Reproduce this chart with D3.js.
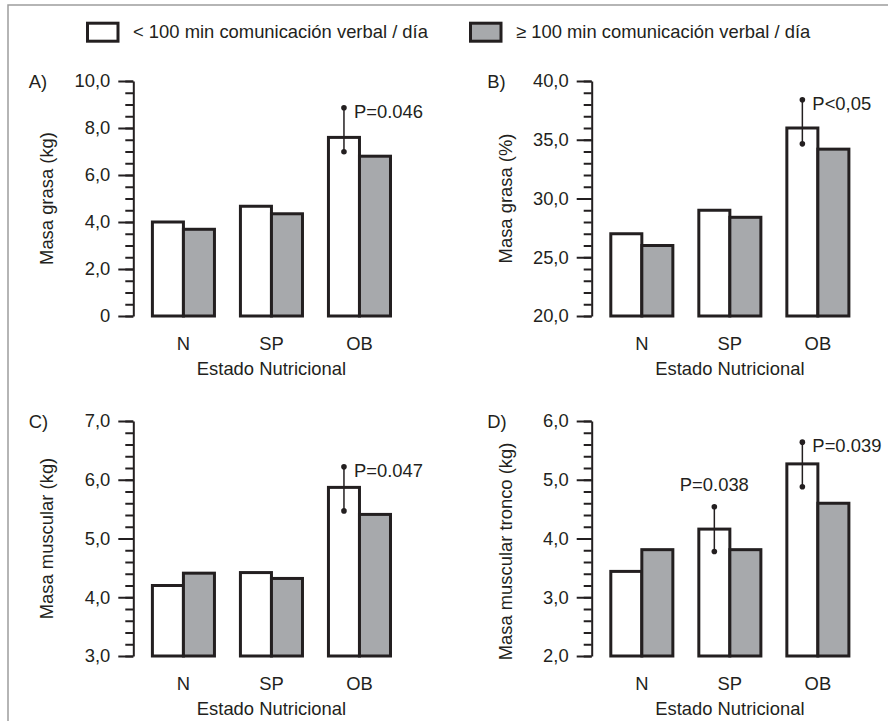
<!DOCTYPE html>
<html>
<head>
<meta charset="utf-8">
<script src="https://cdn.jsdelivr.net/npm/d3@7"></script>
<style>
  body { margin: 0; background: #fff; }
  svg text { font-family: "Liberation Sans", Arial, sans-serif; font-size: 18.4px; fill: #231f20; }
</style>
</head>
<body>
<svg id="chart" width="888" height="721"></svg>
<script>

// ---- data ----
var categories = ["N", "SP", "OB"];
var seriesNames = ["< 100 min comunicación verbal / día", "≥ 100 min comunicación verbal / día"];

// A) Masa grasa (kg)
var fatKgLess = [4.0, 4.67, 7.6];
var fatKgMore = [3.69, 4.35, 6.8];
var fatKgTicks = [0, 2, 4, 6, 8, 10];

// B) Masa grasa (%)
var fatPctLess = [27.0, 29.0, 36.0];
var fatPctMore = [26.0, 28.4, 34.2];
var fatPctTicks = [20, 25, 30, 35, 40];

// C) Masa muscular (kg)
var muscleLess = [4.2, 4.42, 5.87];
var muscleMore = [4.41, 4.32, 5.41];
var muscleTicks = [3, 4, 5, 6, 7];

// D) Masa muscular tronco (kg)
var trunkLess = [3.44, 4.16, 5.27];
var trunkMore = [3.81, 3.81, 4.6];
var trunkTicks = [2, 3, 4, 5, 6];

// error bars on the "< 100 min" bar: [category, low, high, label, label side]
var fatKgErr = [["OB", 6.99, 8.86, "P=0.046", "right"]];
var fatPctErr = [["OB", 34.65, 38.4, "P<0,05", "right"]];
var muscleErr = [["OB", 5.47, 6.22, "P=0.047", "right"]];
var trunkErr = [["SP", 3.78, 4.54, "P=0.038", "above"], ["OB", 4.88, 5.64, "P=0.039", "right"]];

// ---- layout ----
var ink = "#231f20", grey = "#a7a9ac";
var panels = [
    {tag: "A)", label: "Masa grasa (kg)", less: fatKgLess, more: fatKgMore, ticks: fatKgTicks, minor: 0.5, err: fatKgErr, ax: 133.3, top: 81, bottom: 316, labelShift: 0},
    {tag: "B)", label: "Masa grasa (%)", less: fatPctLess, more: fatPctMore, ticks: fatPctTicks, minor: 1, err: fatPctErr, ax: 591.7, top: 81, bottom: 316, labelShift: 0},
    {tag: "C)", label: "Masa muscular (kg)", less: muscleLess, more: muscleMore, ticks: muscleTicks, minor: 0.2, err: muscleErr, ax: 133.3, top: 421, bottom: 656, labelShift: 0},
    {tag: "D)", label: "Masa muscular tronco (kg)", less: trunkLess, more: trunkMore, ticks: trunkTicks, minor: 0.2, err: trunkErr, ax: 591.7, top: 421, bottom: 656, labelShift: 13}
];

var svg = d3.select("#chart");

// frame (top + left edges only are visible)
svg.append("path")
    .attr("d", "M8,721V5H888")
    .attr("fill", "none")
    .attr("stroke", "#9d9d9d")
    .attr("stroke-width", 1.5);

// legend
var legendX = [86, 469];
seriesNames.forEach(function(name, i){
    svg.append("rect")
        .attr("x", legendX[i] + 1.5).attr("y", 23.2)
        .attr("width", 30.5).attr("height", 18)
        .attr("fill", i === 0 ? "#fff" : grey)
        .attr("stroke", ink).attr("stroke-width", 3);
    svg.append("text")
        .attr("x", legendX[i] + 47).attr("y", 37.5)
        .text(name);
});

function fmt(d){
    return d === 0 ? "0" : d.toFixed(1).replace(".", ",");
}

panels.forEach(function(p){
    var g = svg.append("g");
    var ext = d3.extent(p.ticks);

    var y = d3.scaleLinear().domain(ext).range([p.bottom, p.top]);
    var x0 = d3.scaleBand().domain(categories)
        .range([p.ax, p.ax + 276.3])
        .paddingInner(0.261).paddingOuter(0.2);
    var bw = x0.bandwidth();
    var x1 = d3.scaleBand().domain([0, 1]).range([1.5, bw - 1.5]);

    // minor ticks first, then the major axis on top
    var minorTicks = d3.range(ext[0], ext[1] + p.minor / 2, p.minor);
    g.append("g")
        .attr("transform", "translate(" + p.ax + ",0)")
        .call(d3.axisLeft(y).tickValues(minorTicks).tickSize(8).tickSizeOuter(0).tickFormat(""))
        .call(function(a){ a.select(".domain").remove(); });

    var axis = g.append("g")
        .attr("transform", "translate(" + p.ax + ",0)")
        .call(d3.axisLeft(y).tickValues(p.ticks).tickSize(15).tickSizeOuter(0).tickPadding(8).tickFormat(fmt));
    axis.selectAll("path, line").attr("stroke", ink).attr("stroke-width", 2);
    g.selectAll(".tick line").attr("stroke", ink).attr("stroke-width", 2);
    axis.selectAll("text").attr("font-size", null).attr("font-family", null).attr("fill", ink);

    // bars
    var rows = categories.map(function(c, i){ return {cat: c, vals: [p.less[i], p.more[i]]}; });
    var grp = g.selectAll(".grp").data(rows).enter().append("g")
        .attr("transform", function(d){ return "translate(" + x0(d.cat) + ",0)"; });
    grp.selectAll("rect").data(function(d){ return d.vals; }).enter().append("rect")
        .attr("x", function(d, i){ return x1(i); })
        .attr("width", x1.bandwidth())
        .attr("y", function(d){ return y(d); })
        .attr("height", function(d){ return p.bottom - y(d); })
        .attr("fill", function(d, i){ return i === 0 ? "#fff" : grey; })
        .attr("stroke", ink)
        .attr("stroke-width", 3);

    // error bars + p values
    p.err.forEach(function(e){
        var cx = x0(e[0]) + x1(0) + x1.bandwidth() / 2;
        g.append("line")
            .attr("x1", cx).attr("x2", cx)
            .attr("y1", y(e[1])).attr("y2", y(e[2]))
            .attr("stroke", ink).attr("stroke-width", 1.5);
        g.selectAll(null).data([e[1], e[2]]).enter().append("circle")
            .attr("cx", cx).attr("cy", function(d){ return y(d); })
            .attr("r", 2.8).attr("fill", ink);
        var t = g.append("text").text(e[3]);
        if(e[4] === "right"){
            t.attr("x", cx + 10).attr("y", y(e[2]) + 10);
        }else{
            t.attr("x", cx).attr("y", y(e[2]) - 16).attr("text-anchor", "middle");
        }
    });

    // category labels + x title
    g.selectAll(".cat").data(categories).enter().append("text")
        .attr("x", function(d){ return x0(d) + bw / 2; })
        .attr("y", p.bottom + 34)
        .attr("text-anchor", "middle")
        .text(function(d){ return d; });
    g.append("text")
        .attr("x", x0("N") + (x0("OB") + bw - x0("N")) / 2)
        .attr("y", p.bottom + 59)
        .attr("text-anchor", "middle")
        .text("Estado Nutricional");

    // y title
    g.append("text")
        .attr("transform", "translate(" + (p.ax - 80) + "," + ((p.top + p.bottom) / 2 + p.labelShift) + ") rotate(-90)")
        .attr("text-anchor", "middle")
        .text(p.label);

    // panel letter
    g.append("text")
        .attr("x", p.ax - 104.5)
        .attr("y", p.top + 7)
        .text(p.tag);
});

</script>
</body>
</html>
